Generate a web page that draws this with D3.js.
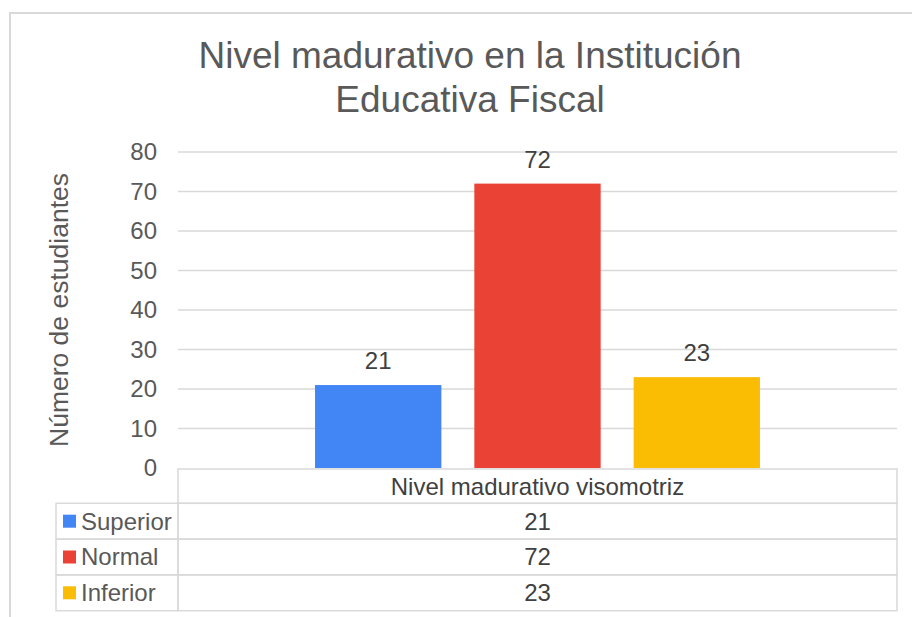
<!DOCTYPE html>
<html>
<head>
<meta charset="utf-8">
<script src="https://cdn.jsdelivr.net/npm/d3@7"></script>
<style>
  body { margin: 0; background: #fff; }
  svg { display: block; font-family: Arial, 'Liberation Sans', sans-serif; }
</style>
</head>
<body>
<svg id="chart" width="912" height="617"></svg>
<script>
// data
const titleLines = ['Nivel madurativo en la Institución', 'Educativa Fiscal'];
const yTitle = 'Número de estudiantes';
const categories = ['Nivel madurativo visomotriz'];
const seriesNames = ['Superior', 'Normal', 'Inferior'];
const seriesValues = [21, 72, 23];
const seriesColors = ['#4285F4', '#EA4335', '#FBBC04'];
const yTicks = [0, 10, 20, 30, 40, 50, 60, 70, 80];

const margin = { top: 152, right: 15, bottom: 149, left: 178 };
const width = 912, height = 617;
const innerW = width - margin.left - margin.right;
const innerH = height - margin.top - margin.bottom;
const rowH = 35.8;

const svg = d3.select('#chart');

// outer chart border (cut off at the right/bottom like the picture)
svg.append('rect')
  .attr('x', 10).attr('y', 13)
  .attr('width', 920).attr('height', 620)
  .style('fill', 'none').style('stroke', '#d9d9d9').style('stroke-width', 2);

// title
svg.append('text')
  .attr('text-anchor', 'middle')
  .style('font-size', '37px').style('fill', '#595959')
  .selectAll('tspan').data(titleLines).enter().append('tspan')
  .attr('x', 470).attr('y', (d, i) => 68 + i * 43.5)
  .text(d => d);

const g = svg.append('g').attr('transform', `translate(${margin.left},${margin.top})`);

const y = d3.scaleLinear().domain([0, 80]).range([innerH, 0]);
const x0 = d3.scaleBand().domain(categories).range([0, innerW]).paddingInner(0).paddingOuter(0.308);
const x1 = d3.scaleBand().domain(seriesNames).range([0, x0.bandwidth()]).paddingInner(0.207).paddingOuter(0);

// gridlines
g.append('g')
  .selectAll('line').data(yTicks.slice(1)).enter().append('line')
  .attr('x1', 0).attr('x2', innerW)
  .attr('y1', d => y(d)).attr('y2', d => y(d))
  .style('stroke', '#d9d9d9').style('stroke-width', 1.5);

// y axis labels
const yAxis = g.append('g')
  .call(d3.axisLeft(y).tickValues(yTicks).tickSize(0).tickPadding(21));
yAxis.select('.domain').remove();
yAxis.selectAll('text')
  .style('font-size', '24px').style('fill', '#595959')
  .style('font-family', "Arial, 'Liberation Sans', sans-serif");

// y title
g.append('text')
  .attr('transform', 'rotate(-90)')
  .attr('x', -innerH / 2).attr('y', -110)
  .attr('text-anchor', 'middle')
  .style('font-size', '26.5px').style('fill', '#595959')
  .text(yTitle);

// bars
const grp = g.selectAll('.grp').data(categories).enter().append('g')
  .attr('transform', d => `translate(${x0(d)},0)`);
grp.selectAll('rect').data(seriesNames).enter().append('rect')
  .attr('x', d => x1(d))
  .attr('y', (d, i) => y(seriesValues[i]))
  .attr('width', x1.bandwidth())
  .attr('height', (d, i) => innerH - y(seriesValues[i]))
  .style('fill', (d, i) => seriesColors[i]);
grp.selectAll('.lbl').data(seriesNames).enter().append('text')
  .attr('class', 'lbl')
  .attr('x', d => x1(d) + x1.bandwidth() / 2)
  .attr('y', (d, i) => y(seriesValues[i]) - 16)
  .attr('text-anchor', 'middle')
  .style('font-size', '24px').style('fill', '#404040')
  .text((d, i) => seriesValues[i]);

// data table
const tbl = g.append('g').attr('transform', `translate(0,${innerH + 1})`);
const legW = 122;
const cellStyle = s => s.style('fill', 'none').style('stroke', '#d9d9d9').style('stroke-width', 1.5);

tbl.append('rect').attr('x', 0).attr('y', 0).attr('width', innerW).attr('height', 34.3).call(cellStyle);
tbl.append('text')
  .attr('x', x0(categories[0]) + x0.bandwidth() / 2).attr('y', 26)
  .attr('text-anchor', 'middle')
  .style('font-size', '24px').style('fill', '#404040')
  .text(categories[0]);

const rows = tbl.selectAll('.row').data(seriesNames).enter().append('g')
  .attr('transform', (d, i) => `translate(0,${34.3 + i * rowH})`);
rows.append('rect').attr('x', -legW).attr('y', 0).attr('width', legW).attr('height', rowH).call(cellStyle);
rows.append('rect').attr('x', 0).attr('y', 0).attr('width', innerW).attr('height', rowH).call(cellStyle);
rows.append('rect')
  .attr('x', -legW + 7).attr('y', rowH / 2 - 6.5)
  .attr('width', 13).attr('height', 13)
  .style('fill', (d, i) => seriesColors[i]);
rows.append('text')
  .attr('x', -legW + 25).attr('y', rowH / 2 + 8.5)
  .style('font-size', '24px').style('fill', '#595959')
  .text(d => d);
rows.append('text')
  .attr('x', x0(categories[0]) + x0.bandwidth() / 2).attr('y', rowH / 2 + 8.5)
  .attr('text-anchor', 'middle')
  .style('font-size', '24px').style('fill', '#404040')
  .text((d, i) => seriesValues[i]);
</script>
</body>
</html>
